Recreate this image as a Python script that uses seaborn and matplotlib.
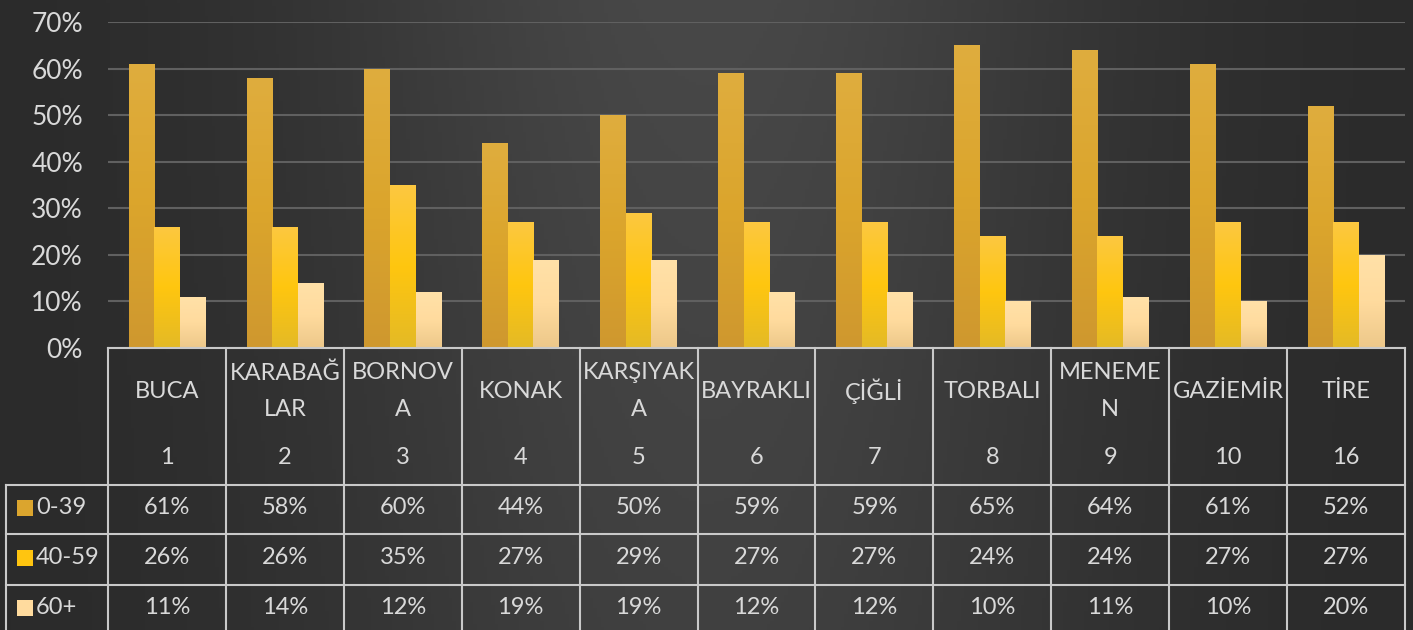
import numpy as np
import pandas as pd
import matplotlib
matplotlib.use('Agg')
import matplotlib.pyplot as plt
import seaborn as sns
from matplotlib.patches import Rectangle
from matplotlib.colors import LinearSegmentedColormap

districts = ['BUCA', 'KARABAĞ\nLAR', 'BORNOV\nA', 'KONAK', 'KARŞIYAK\nA', 'BAYRAKLI',
             'ÇİĞLİ', 'TORBALI', 'MENEME\nN', 'GAZİEMİR', 'TİRE']
ranks = ['1', '2', '3', '4', '5', '6', '7', '8', '9', '10', '16']
age_groups = ['0-39', '40-59', '60+']
share_0_39 = [61, 58, 60, 44, 50, 59, 59, 65, 64, 61, 52]
share_40_59 = [26, 26, 35, 27, 29, 27, 27, 24, 24, 27, 27]
share_60 = [11, 14, 12, 19, 19, 12, 12, 10, 11, 10, 20]
y_ticks = [0, 10, 20, 30, 40, 50, 60, 70]

colors = ['#DBA52E', '#FFC510', '#FFDB9E']
# top / middle / bottom shades for each series
shades = [['#DFAD3E', '#DBA52C', '#CF982F'],
          ['#FCC840', '#FFC60F', '#E4BA26'],
          ['#FFE1A8', '#FFDB9E', '#EDC88A']]

df = pd.DataFrame({
    'district': districts * 3,
    'group': np.repeat(age_groups, len(districts)),
    'share': share_0_39 + share_40_59 + share_60,
})

plt.rcParams['font.family'] = ['Lato', 'DejaVu Sans']
txt_col = '#d9d9d9'
line_col = '#c9c9c9'
fs = 17

W, H = 1413, 630
fig = plt.figure(figsize=(W / 100, H / 100), dpi=100)

# dark gradient background
bg = fig.add_axes([0, 0, 1, 1])
gx = np.linspace(0, 1, 400)
gy = np.linspace(0, 1, 200)[:, None]
grad = 42 + 30 * np.exp(-((gx - 0.5) / 0.28) ** 2) * (1 - 0.25 * gy)
grad = np.clip(grad, 0, 255) / 255
bg.imshow(np.dstack([grad, grad, grad]), aspect='auto', extent=[0, 1, 0, 1])
bg.set_axis_off()

ax_l, ax_r, ax_t, ax_b = 108, 1405, 22, 348
ax = fig.add_axes([ax_l / W, 1 - ax_b / H, (ax_r - ax_l) / W, (ax_b - ax_t) / H])
ax.patch.set_alpha(0)

sns.barplot(data=df, x='district', y='share', hue='group', order=districts,
            hue_order=age_groups, palette=colors, width=0.65, saturation=1,
            legend=False, edgecolor='none', ax=ax)

# vertical gradients on bars
for cont, sh in zip(ax.containers, shades):
    cmap = LinearSegmentedColormap.from_list('g', [sh[2], sh[1], sh[0]])
    for p in cont.patches:
        x0, y0 = p.get_x(), p.get_y()
        w, h = p.get_width(), p.get_height()
        im = ax.imshow(np.linspace(0, 1, 100)[:, None], cmap=cmap, origin='lower',
                       extent=[x0, x0 + w, y0, y0 + h], aspect='auto', zorder=p.get_zorder())
        im.set_clip_path(p)

ax.set_xlim(-0.5, len(districts) - 0.5)
ax.set_ylim(0, 70)
ax.set_yticks(y_ticks)
ax.set_yticklabels([f'{v}%' for v in y_ticks])
ax.tick_params(axis='y', length=0, pad=18, labelsize=19, labelcolor=txt_col)
ax.tick_params(axis='x', length=0, labelbottom=False)
ax.set_xlabel('')
ax.set_ylabel('')
for s in ax.spines.values():
    s.set_visible(False)
ax.yaxis.grid(True, color='#606060', lw=1.5)
ax.set_axisbelow(True)

# data table below the axes
tr = ax.get_xaxis_transform()
col_w = (ax_r - ax_l) / len(districts)


def ya(py):
    return (ax_b - py) / (ax_b - ax_t)


def xd(px):
    return -0.5 + (px - ax_l) / col_w


n = len(districts)
ax.plot([-0.5, n - 0.5], [ya(348)] * 2, transform=tr, color=line_col, lw=1.5, clip_on=False)
for py in [485, 534, 585]:
    ax.plot([xd(6), n - 0.5], [ya(py)] * 2, transform=tr, color=line_col, lw=1.5, clip_on=False)
for i in range(n + 1):
    ax.plot([i - 0.5] * 2, [ya(348), ya(640)], transform=tr, color=line_col, lw=1.5, clip_on=False)
ax.plot([xd(6)] * 2, [ya(485), ya(640)], transform=tr, color=line_col, lw=1.5, clip_on=False)

for i, (name, rk) in enumerate(zip(districts, ranks)):
    ax.text(i, ya(391), name, transform=tr, ha='center', va='center', fontsize=fs,
            color=txt_col, linespacing=1.9, clip_on=False)
    ax.text(i, ya(458), rk, transform=tr, ha='center', va='center', fontsize=fs,
            color=txt_col, clip_on=False)

row_y = [508, 558, 608]
for vals, grp, col, py in zip([share_0_39, share_40_59, share_60], age_groups, colors, row_y):
    ax.add_patch(Rectangle((xd(17), ya(py + 8)), 16 / col_w, 16 / (ax_b - ax_t),
                           transform=tr, facecolor=col, edgecolor='none', clip_on=False))
    ax.text(xd(36), ya(py), grp, transform=tr, ha='left', va='center', fontsize=fs,
            color=txt_col, clip_on=False)
    for i, v in enumerate(vals):
        ax.text(i, ya(py), f'{v}%', transform=tr, ha='center', va='center', fontsize=fs,
                color=txt_col, clip_on=False)

fig.savefig('out.png', dpi=100)
